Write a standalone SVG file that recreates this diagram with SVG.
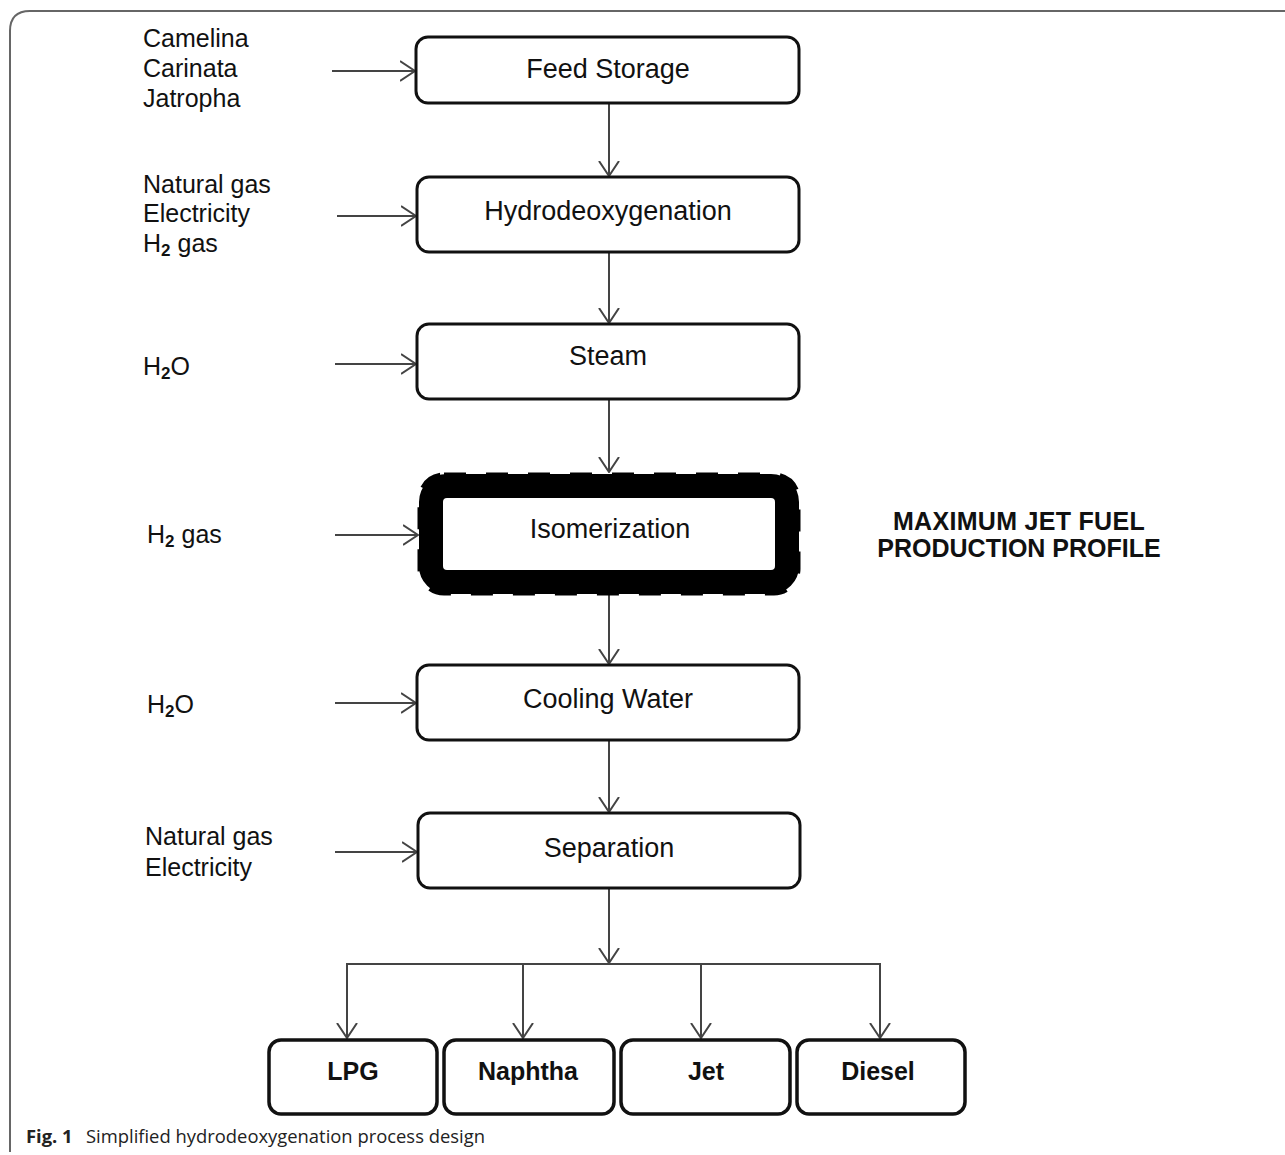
<svg xmlns="http://www.w3.org/2000/svg" width="1285" height="1155" viewBox="0 0 1285 1155">
<defs>
<style>
.box{fill:#fff;stroke:#111;stroke-width:3}
.pbox{fill:#fff;stroke:#111;stroke-width:3.5}
.lbl{font-family:"Liberation Sans",Arial,sans-serif;font-size:27px;fill:#111;text-anchor:middle}
.in{font-family:"Liberation Sans",Arial,sans-serif;font-size:25px;fill:#111}
.sub{font-size:17px;font-weight:bold}
.prod{font-family:"Liberation Sans",Arial,sans-serif;font-size:25px;font-weight:bold;fill:#111;text-anchor:middle}
.con{fill:none;stroke:#444;stroke-width:2}
</style>
<marker id="arr" viewBox="0 0 16 22" refX="15" refY="11" markerWidth="16" markerHeight="22" markerUnits="userSpaceOnUse" orient="auto">
<path d="M0,1 L15,11 L0,21" fill="none" stroke="#444" stroke-width="2"/>
</marker>
</defs>
<rect width="1285" height="1155" fill="#fff"/>
<path d="M10,1152 L10,31 Q10,11 30,11 L1285,11" fill="none" stroke="#666" stroke-width="2"/>

<g id="connectors">
<line class="con" x1="332" y1="71" x2="415" y2="71" marker-end="url(#arr)"/>
<line class="con" x1="337" y1="216" x2="416" y2="216" marker-end="url(#arr)"/>
<line class="con" x1="335" y1="364" x2="416" y2="364" marker-end="url(#arr)"/>
<line class="con" x1="335" y1="535" x2="418" y2="535" marker-end="url(#arr)"/>
<line class="con" x1="335" y1="703" x2="416" y2="703" marker-end="url(#arr)"/>
<line class="con" x1="335" y1="852" x2="417" y2="852" marker-end="url(#arr)"/>
<line class="con" x1="609" y1="104" x2="609" y2="176" marker-end="url(#arr)"/>
<line class="con" x1="609" y1="253" x2="609" y2="323" marker-end="url(#arr)"/>
<line class="con" x1="609" y1="400" x2="609" y2="472" marker-end="url(#arr)"/>
<line class="con" x1="609" y1="595" x2="609" y2="664" marker-end="url(#arr)"/>
<line class="con" x1="609" y1="741" x2="609" y2="812" marker-end="url(#arr)"/>
<line class="con" x1="609" y1="889" x2="609" y2="963" marker-end="url(#arr)"/>
<polyline class="con" points="347,1038 347,964 880,964 880,1038" marker-end="url(#arr)"/>
<line class="con" x1="347" y1="964" x2="347" y2="1038" marker-end="url(#arr)"/>
<line class="con" x1="523" y1="964" x2="523" y2="1038" marker-end="url(#arr)"/>
<line class="con" x1="701" y1="964" x2="701" y2="1038" marker-end="url(#arr)"/>
</g>

<g id="inputs">
<text class="in" x="143" y="47">Camelina</text>
<text class="in" x="143" y="77">Carinata</text>
<text class="in" x="143" y="107">Jatropha</text>
<text class="in" x="143" y="193">Natural gas</text>
<text class="in" x="143" y="222">Electricity</text>
<text class="in" x="143" y="252">H<tspan class="sub" dy="4">2</tspan><tspan dy="-4"> gas</tspan></text>
<text class="in" x="143" y="375">H<tspan class="sub" dy="4">2</tspan><tspan dy="-4">O</tspan></text>
<text class="in" x="147" y="543">H<tspan class="sub" dy="4">2</tspan><tspan dy="-4"> gas</tspan></text>
<text class="in" x="147" y="713">H<tspan class="sub" dy="4">2</tspan><tspan dy="-4">O</tspan></text>
<text class="in" x="145" y="845">Natural gas</text>
<text class="in" x="145" y="876">Electricity</text>
</g>

<g id="feed-storage">
<rect class="box" x="416" y="37" width="383" height="66" rx="12"/>
<text class="lbl" x="608" y="78">Feed Storage</text>
</g>
<g id="hydrodeoxygenation">
<rect class="box" x="417" y="177" width="382" height="75" rx="12"/>
<text class="lbl" x="608" y="220">Hydrodeoxygenation</text>
</g>
<g id="steam">
<rect class="box" x="417" y="324" width="382" height="75" rx="12"/>
<text class="lbl" x="608" y="365">Steam</text>
</g>
<g id="isomerization">
<rect x="431" y="486" width="356" height="96" rx="16" fill="#fff" stroke="#000" stroke-width="24"/>
<rect x="420" y="475" width="378" height="118" rx="24" fill="none" stroke="#000" stroke-width="5" stroke-dasharray="22 20"/>
<text class="lbl" x="610" y="538">Isomerization</text>
</g>
<g id="cooling-water">
<rect class="box" x="417" y="665" width="382" height="75" rx="12"/>
<text class="lbl" x="608" y="708">Cooling Water</text>
</g>
<g id="separation">
<rect class="box" x="418" y="813" width="382" height="75" rx="12"/>
<text class="lbl" x="609" y="857">Separation</text>
</g>

<g id="profile-label">
<text class="prod" x="1019" y="530" letter-spacing="0.3">MAXIMUM JET FUEL</text>
<text class="prod" x="1019" y="557">PRODUCTION PROFILE</text>
</g>

<g id="lpg">
<rect class="pbox" x="269" y="1040" width="168" height="74" rx="12"/>
<text class="prod" x="353" y="1080">LPG</text>
</g>
<g id="naphtha">
<rect class="pbox" x="444" y="1040" width="170" height="74" rx="12"/>
<text class="prod" x="528" y="1080">Naphtha</text>
</g>
<g id="jet">
<rect class="pbox" x="621" y="1040" width="169" height="74" rx="12"/>
<text class="prod" x="706" y="1080">Jet</text>
</g>
<g id="diesel">
<rect class="pbox" x="797" y="1040" width="168" height="74" rx="12"/>
<text class="prod" x="878" y="1080">Diesel</text>
</g>

<g id="caption">
<text x="26" y="1143" font-family="'Open Sans','Noto Sans',sans-serif" font-size="18.4" fill="#222"><tspan font-weight="bold">Fig. 1</tspan><tspan x="86">Simplified hydrodeoxygenation process design</tspan></text>
</g>
</svg>
